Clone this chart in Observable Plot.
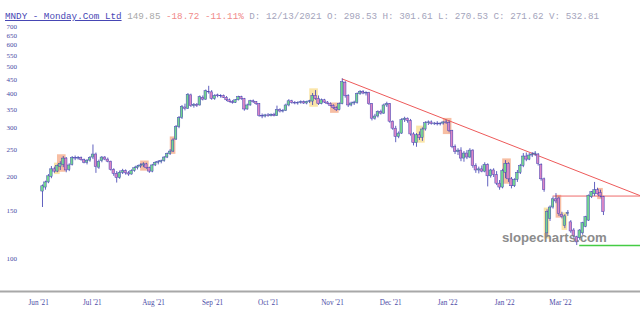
<!DOCTYPE html>
<html>
<head>
<meta charset="utf-8">
<script src="https://cdn.jsdelivr.net/npm/d3@7"></script>
<script src="https://cdn.jsdelivr.net/npm/@observablehq/plot@0.6"></script>
<style>
  html, body { margin: 0; padding: 0; background: #fff; }
  #wrap { position: relative; width: 640px; height: 316px; overflow: hidden; }
  #title { position: absolute; left: 5px; top: 12px; font-family: "Liberation Mono", monospace; font-size: 9.25px; line-height: 10px; white-space: pre; }
  #wm { position: absolute; left: 502px; top: 230px; font-family: "Liberation Sans", Arial, sans-serif; font-weight: bold; font-size: 13.2px; color: #808080; opacity: 0.9; }
</style>
</head>
<body>
<div id="wrap">
  <div id="chart"></div>
  <div id="title"><span style="color:#4646b4;text-decoration:underline">MNDY - Monday.Com Ltd</span> <span style="color:#a8a8a8">149.85</span> <span style="color:#f08a8a">-18.72</span> <span style="color:#f08a8a">-11.11%</span> <span style="color:#a4a4bc">D: 12/13/2021 O: 298.53 H: 301.61 L: 270.53 C: 271.62 V: 532.81</span></div>
  <div id="wm">slopecharts.com</div>
</div>
<script>
// ---- data ----
const open = [176,182,190,199,212,208,216,220,232,211,220,233,232,233,229,224,228,234,240,215,
227,234,230,226,211,204,197,206,209,205,203,209,214,217,219,221,214,208,219,224,
225,227,234,241,246,272,302,326,356,352,394,360,364,362,386,380,406,404,382,394,
391,392,386,378,373,370,378,388,382,350,362,375,372,366,332,330,333,331,335,331,
348,344,346,362,375,370,368,370,372,368,373,374,392,382,366,378,371,367,361,354,
348,366,438,392,362,368,370,398,405,400,402,366,324,330,343,338,362,366,316,298,
278,286,320,324,318,284,264,282,276,296,312,314,310,311,309,311,314,312,292,256,
245,248,232,242,234,248,218,210,212,208,220,200,210,202,188,182,206,222,195,184,
194,206,218,236,230,238,240,240,220,195,124,140,154,165,166,145,132,146,136,127,
120,119,124,131,138,168,172,178,174,168];
const high = [186,192,203,217,216,220,226,236,234,222,236,237,236,235,231,230,236,260,243,229,
236,236,233,227,213,208,209,212,211,208,211,216,219,222,224,223,216,221,226,228,
229,236,243,250,274,306,330,362,366,400,398,368,368,392,392,412,425,410,396,398,
396,395,390,382,377,380,391,391,384,366,378,379,374,368,337,336,338,337,339,360,
352,350,366,380,378,374,373,376,376,375,378,400,410,392,382,381,374,370,364,358,
370,452,442,396,372,375,402,410,410,406,404,368,336,346,348,366,372,368,318,304,
290,324,328,326,322,288,286,290,300,316,318,318,314,316,313,316,320,318,294,260,
252,254,246,248,252,250,222,216,218,224,222,212,213,208,193,212,228,224,198,196,
210,221,242,243,242,244,246,242,222,197,151,156,168,173,168,148,145,150,138,129,
121,128,136,143,171,176,190,181,178,169];
const low = [154,178,188,196,205,206,210,215,206,208,218,228,229,227,222,220,225,230,205,212,
224,228,224,209,200,189,195,203,202,200,202,207,211,214,215,212,205,206,217,220,
222,225,232,238,244,270,298,322,346,350,356,354,356,360,376,378,398,378,378,386,
385,384,374,370,366,368,376,378,345,348,360,368,362,328,324,326,328,329,329,330,
340,340,344,358,366,364,363,366,365,364,368,362,378,362,364,368,364,358,350,344,
346,364,385,356,358,362,366,394,396,392,362,318,320,326,334,336,356,312,294,265,
274,284,314,312,280,258,255,270,268,292,306,307,306,305,305,307,309,288,252,240,
238,226,225,230,232,214,205,204,206,206,183,197,198,185,178,180,196,190,180,182,
190,203,215,226,228,234,236,218,192,175,120,137,152,159,143,140,129,143,124,119,
112,117,122,130,137,166,169,171,167,144];
const close = [184,190,200,212,208,218,222,232,210,219,233,232,233,229,224,228,233,240,216,226,
234,230,226,211,204,197,206,209,205,203,209,214,217,219,221,214,208,219,224,225,
227,234,241,246,270,302,326,358,352,396,360,364,360,388,380,408,404,382,392,391,
392,386,378,373,370,378,388,382,350,362,375,372,366,332,330,333,331,335,331,348,
344,346,362,375,370,368,370,372,368,373,375,392,382,366,378,371,367,361,354,348,
366,440,392,362,368,371,398,405,400,402,366,324,330,343,338,362,366,316,298,278,
286,320,324,318,284,264,282,276,296,312,314,310,311,309,311,314,312,292,256,245,
248,232,242,234,248,218,210,212,208,220,200,210,202,188,182,209,222,195,184,194,
206,218,236,230,238,240,242,222,195,178,148,154,165,162,146,142,143,147,126,121,
115,127,135,142,170,175,178,172,169,148];

// pattern highlight boxes: first / last candle index and kind
const hlStart = [5, 6, 34, 44, 91, 98, 127, 136, 156, 170, 174, 176, 188];
const hlEnd   = [5, 7, 35, 44, 92, 99, 128, 137, 157, 170, 174, 176, 188];
const hlKind  = ["y","o","o","o","y","o","y","o","o","y","o","y","o"];

// trend / level lines: candle index and price
const trendIdx = [101, 202];
const trendVal = [452, 169];
const resIdx = [172, 202];
const resVal = [169.5, 169.5];
const supIdx = [181, 202];
const supVal = [112, 112];

// axis labels
const yTicks = [100, 150, 200, 250, 300, 350, 400, 450, 500, 550, 600, 650, 700];
const monthLabels = ["Jun '21","Jul '21","Aug '21","Sep '21","Oct '21","Nov '21","Dec '21","Jan '22","Jan '22","Mar '22"];
const monthPos = [-1.3, 16.8, 37.4, 57.3, 76.1, 97.7, 117.3, 136.5, 155.7, 174.5];

// ---- build ----
const candles = open.map((o, i) => ({i, o, h: high[i], l: low[i], c: close[i]}));
const highlights = hlStart.map((s, k) => {
  const e = hlEnd[k];
  let lo = Infinity, hi = -Infinity;
  for (let j = s; j <= e; j++) { lo = Math.min(lo, low[j]); hi = Math.max(hi, high[j]); }
  return {s, e, lo, hi, kind: hlKind[k]};
});
const toPts = (xs, vs) => xs.map((x, k) => ({i: x, v: vs[k]}));
const yMin = 76.2, yMax = 750;
const navy = "#4444b4";
const axisFont = "Liberation Serif, DejaVu Serif, serif";

const chart = Plot.plot({
  width: 640,
  height: 316,
  marginTop: 18,
  marginBottom: 25,
  marginLeft: 0,
  marginRight: 0,
  style: {background: "transparent"},
  x: {domain: [-14.15, 201.48], axis: null},
  y: {type: "log", domain: [yMin, yMax], axis: null},
  marks: [
    Plot.rect(highlights, {
      x1: d => d.s - 0.95, x2: d => d.e + 0.95,
      y1: d => d.lo * 0.985, y2: d => d.hi * 1.015,
      fill: d => d.kind === "o" ? "#f4a27c" : "#f7d46e",
      fillOpacity: d => d.kind === "o" ? 0.7 : 0.6
    }),
    Plot.line(toPts(trendIdx, trendVal), {x: "i", y: "v", stroke: "#ee5a5a", strokeWidth: 1}),
    Plot.line(toPts(resIdx, resVal), {x: "i", y: "v", stroke: "#ee6a6a", strokeWidth: 1}),
    Plot.ruleY(toPts(supIdx, supVal).slice(0, 1), {
      y: "v", x1: () => supIdx[0], x2: () => supIdx[1], stroke: "#44cc44", strokeWidth: 1.3
    }),
    Plot.ruleX(candles, {x: "i", y1: "l", y2: "h", stroke: navy, strokeWidth: 0.85}),
    Plot.rect(candles, {
      x1: d => d.i - 0.42, x2: d => d.i + 0.42,
      y1: "o", y2: "c",
      fill: d => d.c >= d.o ? "#72d690" : "#da86c6",
      stroke: navy, strokeWidth: 0.5
    }),
    Plot.ruleY([yMin], {stroke: "#a8a8a8", strokeWidth: 2}),
    Plot.text(yTicks, {
      y: d => d, text: d => String(d), frameAnchor: "left", dx: 6, textAnchor: "start",
      fontSize: 7, fontFamily: axisFont, fill: "#4b4ba6"
    }),
    Plot.text(monthLabels, {
      x: (d, k) => monthPos[k], text: d => d, frameAnchor: "bottom", dy: 13,
      fontSize: 7.2, fontFamily: axisFont, fill: "#4b4ba6"
    })
  ]
});
document.getElementById("chart").appendChild(chart);
</script>
</body>
</html>
